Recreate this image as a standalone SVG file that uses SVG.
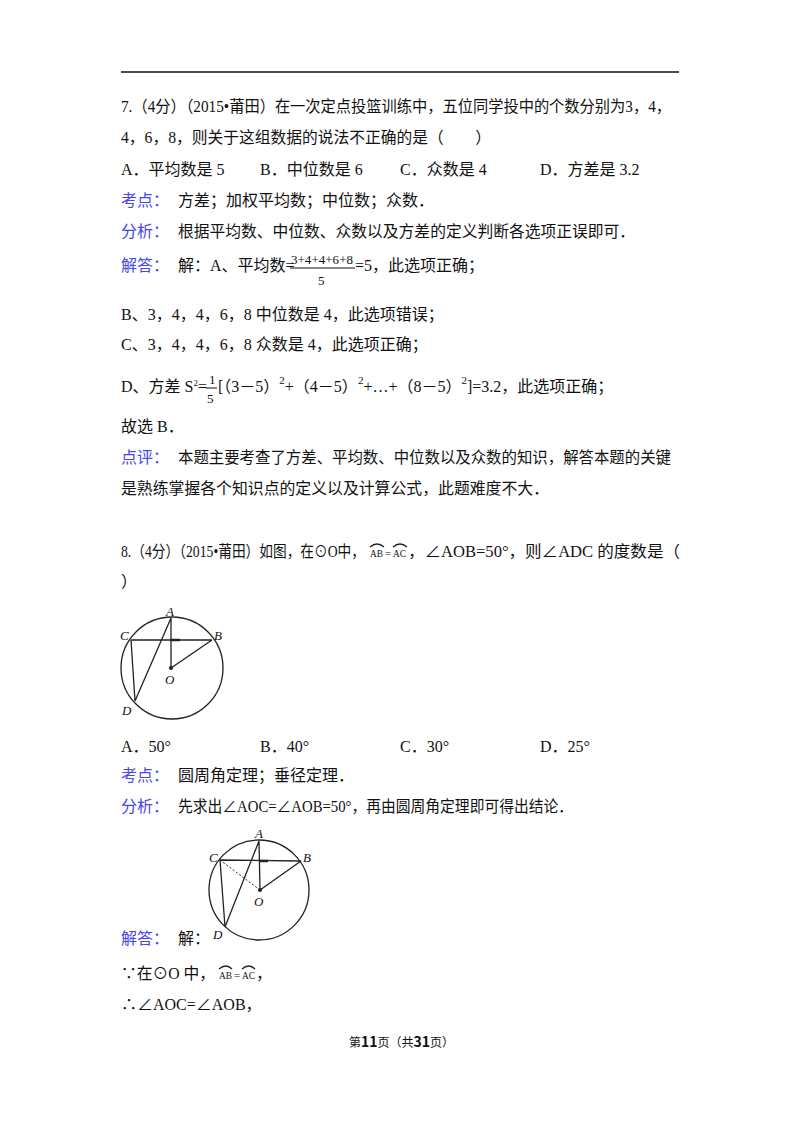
<svg xmlns="http://www.w3.org/2000/svg" width="800" height="1132" viewBox="0 0 800 1132">
<style>
text{font-family:"Liberation Serif","Noto Sans CJK SC",serif;font-size:16px;fill:#111}
.b{fill:#4646f0}
.l{font-style:italic;font-size:13px}
.g{stroke:#222;stroke-width:1.3;fill:none}
.s{font-size:13px}
.a{font-size:11px}
</style>
<rect width="800" height="1132" fill="#fff"/>
<line x1="121" y1="72" x2="679" y2="72" stroke="#111" stroke-width="1.5"/>
<text x="121" y="112" textLength="550" lengthAdjust="spacingAndGlyphs">7.（4分）（2015•莆田）在一次定点投篮训练中，五位同学投中的个数分别为3，4，</text>
<text x="121" y="143" textLength="370" lengthAdjust="spacingAndGlyphs">4，6，8，则关于这组数据的说法不正确的是（　　）</text>
<text x="121" y="175">A．平均数是 5</text><text x="260" y="175">B．中位数是 6</text><text x="400" y="175">C．众数是 4</text><text x="540" y="175">D．方差是 3.2</text>
<text x="121" y="206" class="b">考点：</text><text x="178" y="206">方差；加权平均数；中位数；众数．</text>
<text x="121" y="237" class="b">分析：</text><text x="178" y="237" textLength="457" lengthAdjust="spacingAndGlyphs">根据平均数、中位数、众数以及方差的定义判断各选项正误即可．</text>
<text x="121" y="271" class="b">解答：</text><text x="178" y="271">解：A、平均数=</text>
<text x="291" y="264" class="s" textLength="62" lengthAdjust="spacingAndGlyphs">3+4+4+6+8</text>
<line x1="290" y1="268" x2="355" y2="268" stroke="#111"/>
<text x="318" y="285" class="s">5</text>
<text x="355" y="271">=5，此选项正确；</text>
<text x="121" y="320">B、3，4，4，6，8 中位数是 4，此选项错误；</text>
<text x="121" y="350">C、3，4，4，6，8 众数是 4，此选项正确；</text>
<text x="121" y="392">D、方差 S<tspan font-size="9" dy="-6">2</tspan><tspan dy="6">=</tspan></text>
<text x="209" y="384" class="s">1</text>
<line x1="206" y1="388" x2="217" y2="388" stroke="#111"/>
<text x="207" y="403" class="s">5</text>
<text x="218" y="392">[（3－5）<tspan font-size="11" dy="-8">2</tspan><tspan dy="8">+（4－5）</tspan><tspan font-size="11" dy="-8">2</tspan><tspan dy="8">+…+（8－5）</tspan><tspan font-size="11" dy="-8">2</tspan><tspan dy="8">]=3.2，此选项正确；</tspan></text>
<text x="121" y="432">故选 B．</text>
<text x="121" y="463" class="b">点评：</text><text x="178" y="463" textLength="493" lengthAdjust="spacingAndGlyphs">本题主要考查了方差、平均数、中位数以及众数的知识，解答本题的关键</text>
<text x="121" y="494" textLength="428" lengthAdjust="spacingAndGlyphs">是熟练掌握各个知识点的定义以及计算公式，此题难度不大．</text>
<text x="121" y="557" textLength="244" lengthAdjust="spacingAndGlyphs">8.（4分）（2015•莆田）如图，在⊙O中，</text>
<text x="370" y="557" class="a" textLength="13" lengthAdjust="spacingAndGlyphs">AB</text><text x="385" y="557" class="a">=</text><text x="393" y="557" class="a" textLength="13" lengthAdjust="spacingAndGlyphs">AC</text>
<path class="g" d="M370 547 Q377 541 384 547 M393 547 Q400 541 407 547" stroke-width="1"/>
<text x="408" y="557" textLength="272" lengthAdjust="spacingAndGlyphs">，∠AOB=50°，则∠ADC 的度数是（</text>
<text x="121" y="587">）</text>
<g id="fig1">
<circle cx="172" cy="668" r="51" class="g"/>
<path class="g" d="M131 640 L212 640 M171 618 L171 668 L212 640 M131 640 L135 701 L171 618"/>
<path d="M171 640 L180 640" stroke="#222" stroke-width="2.5"/>
<circle cx="171" cy="668" r="2" fill="#222"/>
<text x="166" y="616" class="l">A</text><text x="120" y="640" class="l">C</text><text x="214" y="640" class="l">B</text><text x="165" y="684" class="l">O</text><text x="122" y="715" class="l">D</text>
</g>
<text x="121" y="752">A．50°</text><text x="260" y="752">B．40°</text><text x="400" y="752">C．30°</text><text x="540" y="752">D．25°</text>
<text x="121" y="781" class="b">考点：</text><text x="178" y="781">圆周角定理；垂径定理．</text>
<text x="121" y="812" class="b">分析：</text><text x="178" y="812" textLength="395" lengthAdjust="spacingAndGlyphs">先求出∠AOC=∠AOB=50°，再由圆周角定理即可得出结论．</text>
<g id="fig2">
<circle cx="259" cy="890" r="50" class="g"/>
<path class="g" d="M220 860 L301 861 M259 841 L260 890 L301 861 M220 860 L225 927 L259 841"/>
<path d="M220 860 L260 890" stroke="#222" stroke-dasharray="2,2" fill="none"/>
<path d="M259 861 L268 861" stroke="#222" stroke-width="2.5"/>
<circle cx="260" cy="890" r="2" fill="#222"/>
<text x="255" y="838" class="l">A</text><text x="209" y="862" class="l">C</text><text x="303" y="862" class="l">B</text><text x="254" y="906" class="l">O</text><text x="213" y="939" class="l">D</text>
</g>
<text x="121" y="944" class="b">解答：</text><text x="178" y="944">解：</text>
<text x="121" y="979" textLength="94" lengthAdjust="spacingAndGlyphs">∵在⊙O 中，</text>
<text x="219" y="979" class="a" textLength="13" lengthAdjust="spacingAndGlyphs">AB</text><text x="234" y="979" class="a">=</text><text x="242" y="979" class="a" textLength="13" lengthAdjust="spacingAndGlyphs">AC</text><text x="256" y="979">，</text>
<path class="g" d="M219 969 Q226 963 232 969 M242 969 Q249 963 255 969" stroke-width="1"/>
<text x="121" y="1010">∴∠AOC=∠AOB，</text>
<text x="349" y="1047" style="font-family:'Noto Sans CJK SC',sans-serif;font-size:12px">第<tspan font-weight="bold" font-size="14">11</tspan>页（共<tspan font-weight="bold" font-size="14">31</tspan>页）</text>
</svg>
